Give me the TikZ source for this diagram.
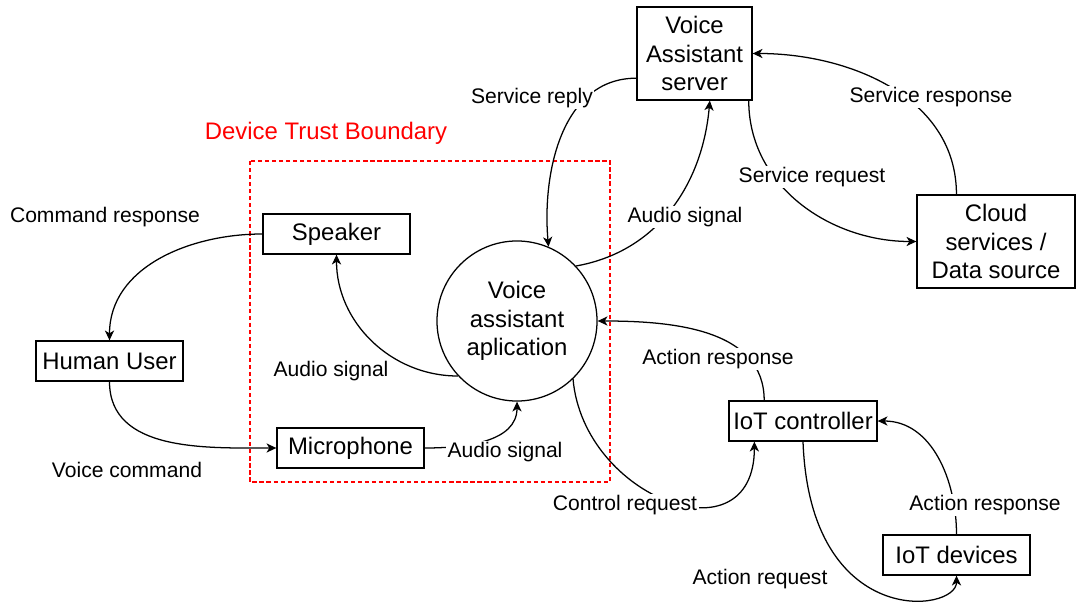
\documentclass[tikz,border=0pt]{standalone}
\usepackage{fontspec}
\setmainfont{Liberation Sans}
\usetikzlibrary{arrows.meta}
\definecolor{boundred}{RGB}{255,0,0}

\begin{document}
\begin{tikzpicture}[x=0.025cm, y=0.025cm,
    box/.style={draw, line width=0.9pt, fill=white, minimum width=3.675cm, minimum height=1cm,
        inner sep=0pt, align=center, font=\fontsize{17}{20.3}\selectfont},
    flow/.style={line width=0.9pt, -{Stealth[length=7pt, width=6.5pt, inset=2pt]}},
    lbl/.style={fill=white, inner sep=1pt, font=\fontsize{15}{18}\selectfont}]

    \useasboundingbox (0,0) rectangle (1076,-603);

    % trust boundary
    \draw[boundred, line width=0.8pt, dash pattern=on 3pt off 2pt] (250,-161) rectangle (610,-482);
    \node[text=boundred, font=\fontsize{17}{20}\selectfont] (TB) at (326,-133) {Device Trust Boundary};

    \node[box, minimum width=2.875cm, minimum height=2.325cm] (srv) at (694.5,-53.5) {Voice\\Assistant\\server};
    \node[box, minimum width=3.95cm, minimum height=2.325cm] (cld) at (996,-241.5) {Cloud\\services /\\Data source};
    \node[box] (spk) at (336.5,-234) {Speaker};
    \node[box] (hum) at (109.5,-361) {Human User};
    \node[box] (mic) at (350.5,-448) {Microphone};
    \node[box, minimum width=3.7cm] (ctl) at (803,-421) {IoT controller};
    \node[box] (dev) at (956.5,-555) {IoT devices};
    \node[draw, circle, line width=0.9pt, minimum size=4cm, inner sep=0pt, align=center,
        font=\fontsize{17}{20.3}\selectfont] (app) at (517,-321) {Voice\\assistant\\aplication};

    \draw[flow] (spk.west) to[out=180, in=90] (hum.north);
    \draw[flow] (hum.south) to[out=-90, in=180] (mic.west);
    \draw[flow] (mic.east) to[out=0, in=-90] (app.south);
    \draw[flow] (app.223) to[out=180, in=-90] (spk.south);
    \draw[flow] (srv.203.5) to[out=180, in=95] (app.67);
    \draw[flow] (app.43) to[out=10, in=-95] (srv.288.4);
    \draw[flow] (srv.319) to[out=-90, in=180] (cld.west);
    \draw[flow] (cld.130) to[out=90, in=0] (srv.east);
    \draw[flow] (ctl.152) to[out=90, in=0] (app.east);
    \draw[flow] (app.314.5) to[out=-85, in=-90, looseness=1.6] (ctl.203.5);
    \draw[flow] (dev.north) to[out=90, in=0] (ctl.east);
    \draw[flow] (ctl.south) .. controls +(7,-189) and +(0,-37) .. (dev.south);

    % labels
    \node[lbl] (L1) at (105,-217) {Command response};
    \node[lbl] (L2) at (127,-470) {Voice command};
    \node[lbl] (L3) at (331,-371) {Audio signal};
    \node[lbl] (L4) at (505,-452) {Audio signal};
    \node[lbl] (L5) at (532,-98) {Service reply};
    \node[lbl] (L6) at (685,-217) {Audio signal};
    \node[lbl] (L7) at (812,-177) {Service request};
    \node[lbl] (L8) at (931,-97) {Service response};
    \node[lbl] (L9) at (718,-359) {Action response};
    \node[lbl] (L10) at (625,-505) {Control request};
    \node[lbl] (L11) at (985,-505) {Action response};
    \node[lbl] (L12) at (760,-579) {Action request};

\end{tikzpicture}
\end{document}
